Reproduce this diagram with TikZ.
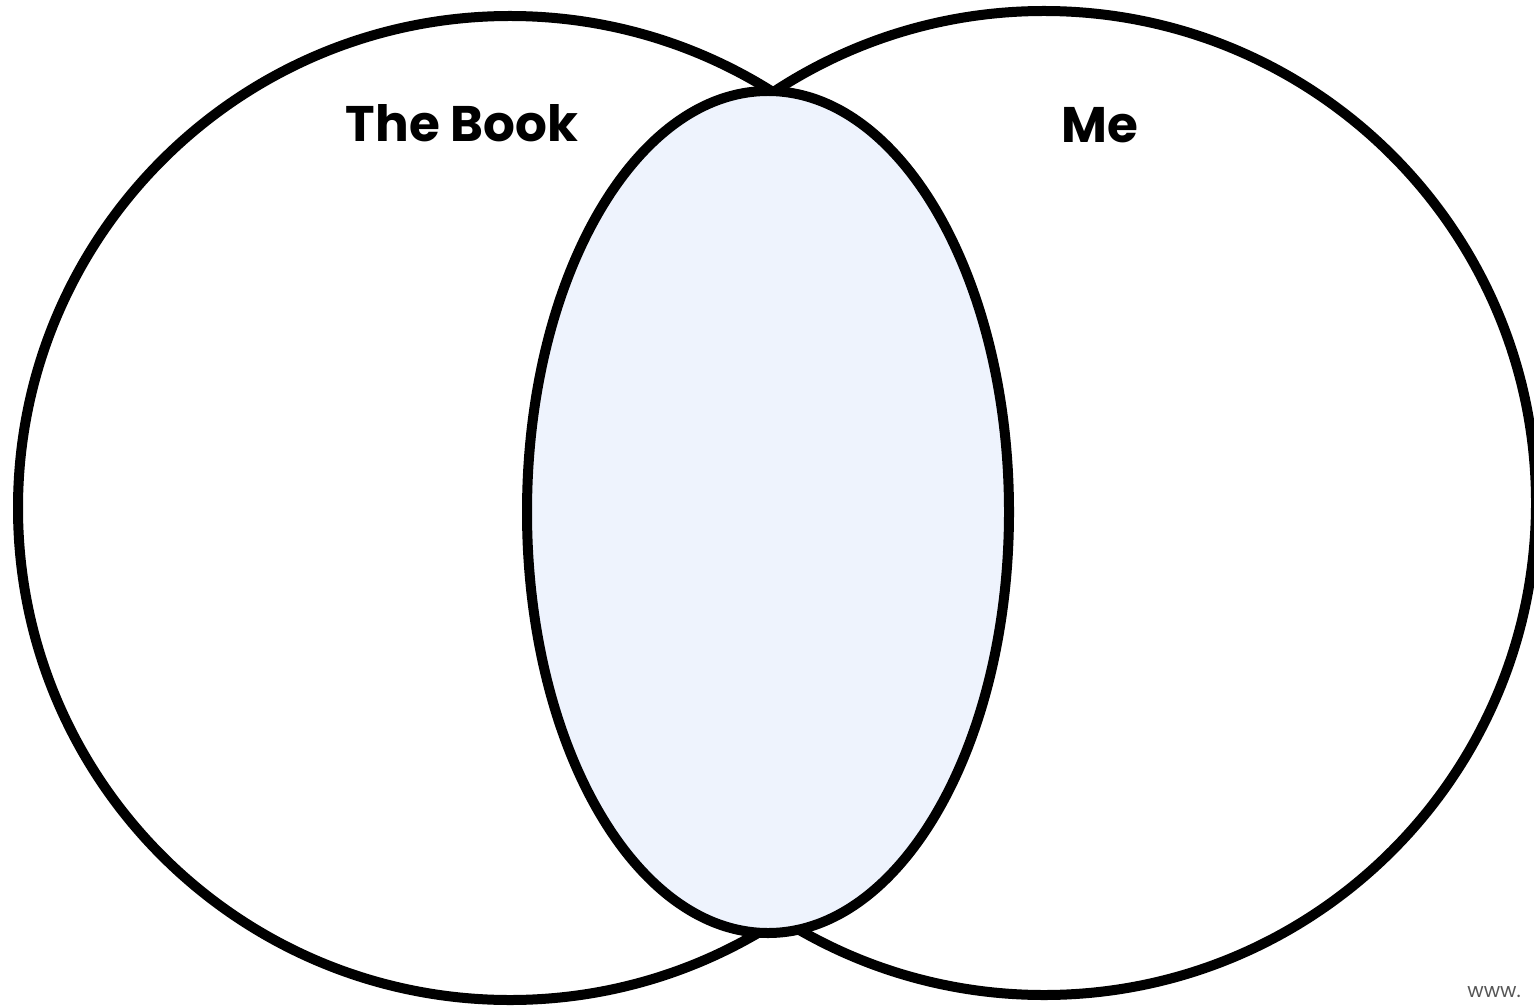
\documentclass[tikz,border=0pt]{standalone}
\usepackage{fontspec}
\setmainfont{Poppins}
\usetikzlibrary{shapes.geometric}
\definecolor{vennblue}{HTML}{EEF3FD}
\definecolor{urlgray}{HTML}{555555}

\begin{document}
\begin{tikzpicture}[
    x=0.5pt, y=-0.5pt,
    set/.style={circle, draw=black, line width=5pt, inner sep=0pt, minimum size=492pt},
    overlap/.style={ellipse, draw=black, line width=5pt, inner sep=0pt, fill=vennblue, minimum width=241pt, minimum height=421pt},
    title/.style={font=\fontsize{25}{28}\selectfont\bfseries, anchor=base}
]
\useasboundingbox (0,0) rectangle (1534,1005);
\fill[white] (0,0) rectangle (1534,1005);
\node[set] (book) at (510,508) {};
\node[set] (me) at (1044,503) {};
\node[overlap] (both) at (768,512) {};

\node[title] (bookname) at (462,142) {The Book};
\node[title] (mename) at (1100,143) {Me};
\node[font=\fontsize{10}{12}\selectfont, text=urlgray, anchor=base west, inner sep=0pt] (url) at (1467,997) {www.};
\end{tikzpicture}
\end{document}
